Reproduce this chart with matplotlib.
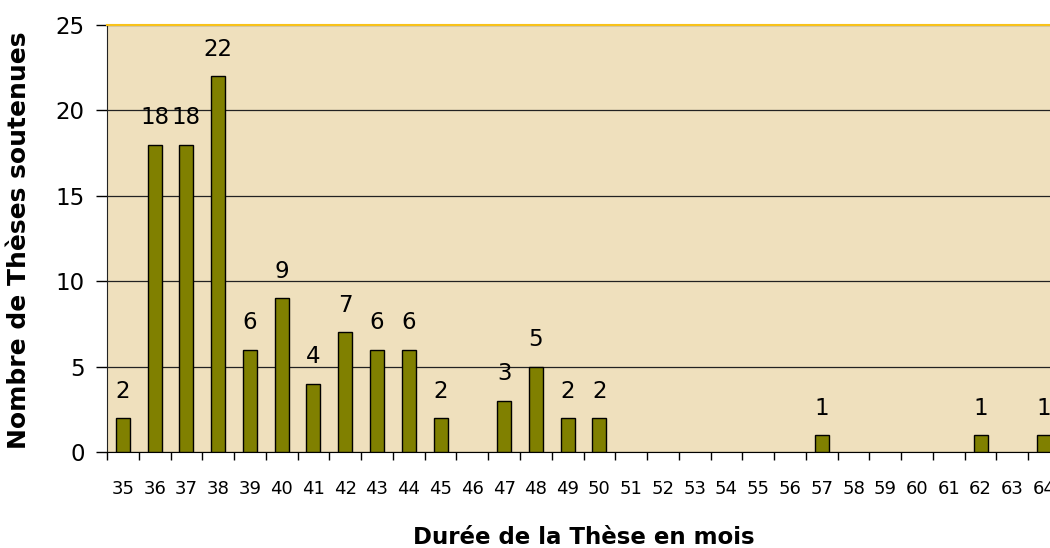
import matplotlib.pyplot as plt
import numpy as np

# Durée de la thèse (mois) et nombre de thèses soutenues
mois = list(range(35, 65))
nb_theses = [2, 18, 18, 22, 6, 9, 4, 7, 6, 6, 2, 0, 3, 5, 2, 2,
             0, 0, 0, 0, 0, 0, 1, 0, 0, 0, 0, 1, 0, 1]
y_ticks = [0, 5, 10, 15, 20, 25]

plt.rcParams['font.family'] = ['DejaVu Sans']

fig = plt.figure(figsize=(10.5, 5.48), dpi=100)
# right edge of the plot area runs slightly past the image, as in the original
ax = fig.add_axes([107 / 1050, 1 - 452 / 548, 953 / 1050, 427 / 548])

x = np.arange(len(mois))
ax.set_facecolor('#EFE0BD')
# empty categories get no outline so nothing shows at zero
lw = [1.0 if v > 0 else 0 for v in nb_theses]
ax.bar(x, nb_theses, width=0.44, color='#808000', edgecolor='black',
       linewidth=lw, zorder=3)

for xi, v in zip(x, nb_theses):
    if v > 0:
        ax.annotate(str(v), (xi, v), xytext=(0, 11), textcoords='offset points',
                    ha='center', va='bottom', fontsize=16.5, zorder=4)

ax.set_xlim(-0.5, len(mois) - 0.5)
ax.set_ylim(0, 25)
ax.set_yticks(y_ticks)
ax.tick_params(axis='y', labelsize=16.5, length=8, width=1, pad=8,
               direction='out')
ax.yaxis.grid(True, color='#222222', linewidth=0.9, zorder=1)

ax.set_xticks(x)
ax.set_xticklabels([str(m) for m in mois], fontsize=13)
ax.set_xticks(np.arange(-0.5, len(mois)), minor=True)
ax.tick_params(axis='x', which='major', length=0, pad=20)
ax.tick_params(axis='x', which='minor', length=6, width=1, direction='out')

ax.spines['right'].set_visible(False)
ax.spines['top'].set_color('#F8C21A')
ax.spines['top'].set_linewidth(1.5)
ax.spines['left'].set_color('#222222')
ax.spines['bottom'].set_color('black')

fig.text(584 / 1050, 1 - 537 / 548, "Durée de la Thèse en mois", ha='center',
         va='center', fontsize=16.5, fontweight='bold')
fig.text(19 / 1050, 1 - 240 / 548, "Nombre de Thèses soutenues", ha='center',
         va='center', rotation=90, fontsize=18, fontweight='bold')

fig.savefig('out.png', dpi=100)
